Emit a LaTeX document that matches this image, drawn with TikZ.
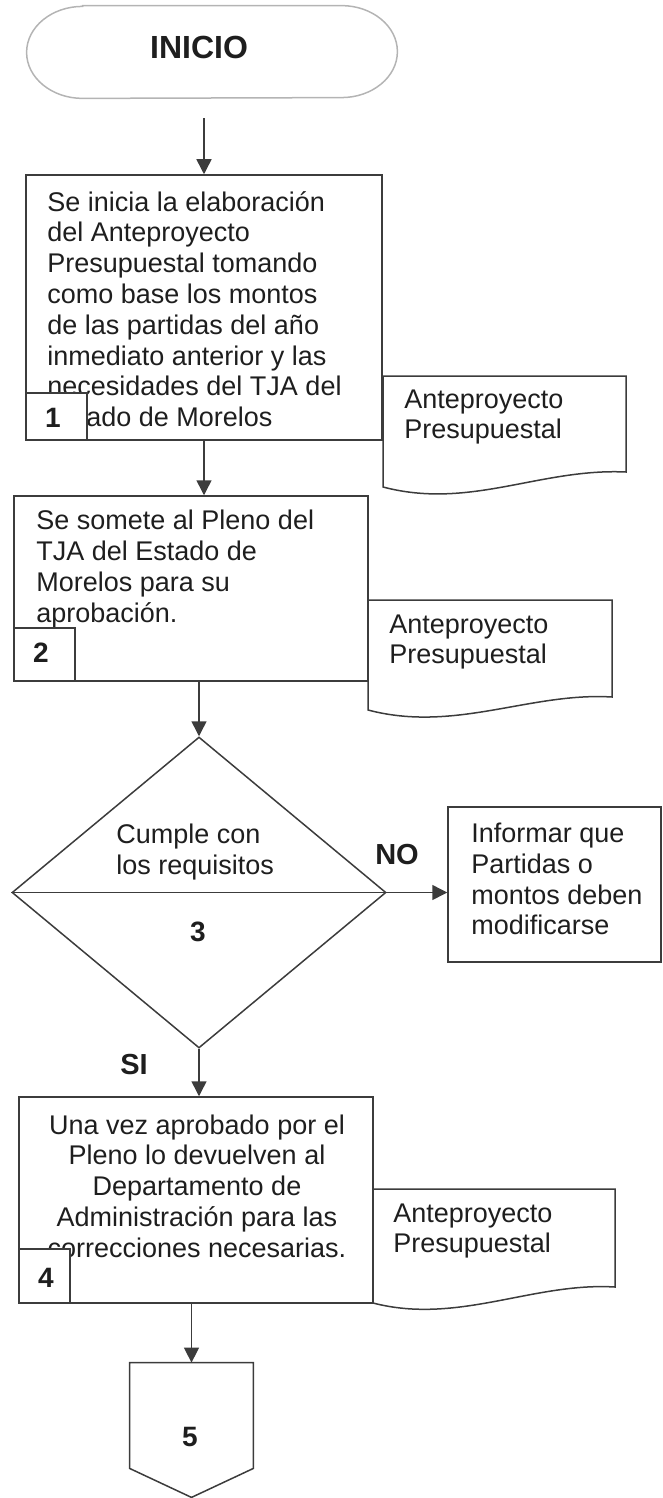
\documentclass[tikz,border=0pt]{standalone}
\usepackage{fontspec}
\setmainfont{Liberation Sans}
\usetikzlibrary{arrows.meta,shapes.geometric,fit,calc}
\definecolor{ln}{HTML}{3C3C3C}
\definecolor{tx}{HTML}{1E1E1E}
\definecolor{tb}{HTML}{B4B4B4}
\tikzset{
  boxf/.style={draw=ln,line width=0.75pt,inner sep=0pt},
  hid/.style={inner sep=0pt},
  body/.style={inner sep=0pt,text=tx,font=\fontsize{13.5}{15.4}\selectfont,align=left},
  bodyc/.style={body,align=center},
  num/.style={inner sep=0pt,text=tx,font=\fontsize{14}{16}\selectfont\bfseries},
  lbl/.style={inner sep=0pt,text=tx,font=\fontsize{14.5}{17}\selectfont\bfseries},
  numbox/.style={draw=ln,line width=0.75pt,fill=white},
  docf/.style={draw=ln,line width=0.75pt},
  arr/.style={draw=ln,line width=0.75pt,-{Triangle[length=7.5pt,width=7.5pt]}},
  ln/.style={draw=ln,line width=0.75pt}
}
\begin{document}
\begin{tikzpicture}[x=0.5pt,y=-0.5pt]
\useasboundingbox (0,0) rectangle (663,1498);
% terminator
\node[hid,fit={(27,6) (397,98)}] (t) {};
\draw[tb,line width=0.75pt] ([xshift=28pt]t.north west) -- ([xshift=-28pt]t.north east)
  arc[start angle=90,end angle=-90,x radius=28pt,y radius=23pt]
  -- ([xshift=28pt]t.south west)
  arc[start angle=270,end angle=90,x radius=28pt,y radius=23pt] -- cycle;
\node[inner sep=0pt,text=tx,font=\fontsize{16}{18}\selectfont\bfseries] (tlab) at (199,47) {INICIO};
% box 1
\node[boxf,fit={(26,175) (382,440)}] (b1) {};
\node[body,anchor=west] (b1t) at (47,309) {Se inicia la elaboración\\del Anteproyecto\\Presupuestal tomando\\como base los montos\\de las partidas del año\\inmediato anterior y las\\necesidades del TJA del\\Estado de Morelos};
\node[numbox,fit={(26,393) (87,440)},inner sep=0pt] (n1) {};
\node[num] (n1t) at (53,418) {1};
% doc 1
\draw[docf] (383,376) coordinate (d1a) -- (626,376) coordinate (d1b) -- (626,472) coordinate (d1c)
  .. controls (540,468) and (470,510) .. (383,487) coordinate (d1d) -- cycle;
\node[body,anchor=west] (d1t) at (404,417) {Anteproyecto\\Presupuestal};
% box 2
\node[boxf,fit={(14,496) (368,681)}] (b2) {};
\node[body,anchor=west] (b2t) at (36,569) {Se somete al Pleno del\\TJA del Estado de\\Morelos para su\\aprobación.};
\node[numbox,fit={(14,628) (75,681)},inner sep=0pt] (n2) {};
\node[num] (n2t) at (41,653) {2};
% doc 2
\draw[docf] (368,600) coordinate (d2a) -- (612,600) coordinate (d2b) -- (612,697) coordinate (d2c)
  .. controls (530,692) and (455,733) .. (368,710) coordinate (d2d) -- cycle;
\node[body,anchor=west] (d2t) at (389,642) {Anteproyecto\\Presupuestal};
% decision
\node[diamond,draw=ln,line width=0.75pt,inner sep=0pt,minimum width=187pt,minimum height=155.5pt] (d) at (199,892.5) {};
\draw[ln] (d.west) -- (d.east);
\node[body,anchor=west] (dt) at (116,852) {Cumple con\\los requisitos};
\node[num] (n3t) at (198,932) {3};
\node[lbl] (no) at (397,855) {NO};
\node[lbl] (si) at (134,1065) {SI};
% informar
\node[boxf,fit={(448,807) (661,962)}] (inf) {};
\node[body,anchor=west] (inft) at (471,879) {Informar que\\Partidas o\\montos deben\\modificarse};
% box 4
\node[boxf,fit={(19,1097) (373,1303)}] (b4) {};
\node[bodyc] (b4t) at (197,1186) {Una vez aprobado por el\\Pleno lo devuelven al\\Departamento de\\Administración para las\\correcciones necesarias.};
\node[numbox,fit={(19,1249) (70,1303)},inner sep=0pt] (n4) {};
\node[num] (n4t) at (46,1278) {4};
% doc 4
\draw[docf] (373,1189) coordinate (d4a) -- (615,1189) coordinate (d4b) -- (615,1287) coordinate (d4c)
  .. controls (533,1282) and (458,1325) .. (373,1303) coordinate (d4d) -- cycle;
\node[body,anchor=west] (d4t) at (393,1231) {Anteproyecto\\Presupuestal};
% connector 5
\node[hid,fit={(130,1363) (253,1468)}] (c5) {};
\draw[ln] (c5.north west) -- (c5.north east) -- (c5.south east) -- ($(c5.south)+(0,29)$) -- (c5.south west) -- cycle;
\node[num] (n5t) at (190,1437) {5};
% arrows
\draw[arr,shorten <=10pt] (t.south -| b1.north) -- (b1.north);
\draw[arr] (b1.south) -- (b1.south |- b2.north);
\draw[arr] (b2.south -| d.north) -- (d.north);
\draw[arr] (d.east) -- (d.east -| inf.west);
\draw[arr] (d.south) -- (d.south |- b4.north);
\draw[arr] (b4.south -| c5.north) -- (c5.north);
\end{tikzpicture}
\end{document}
